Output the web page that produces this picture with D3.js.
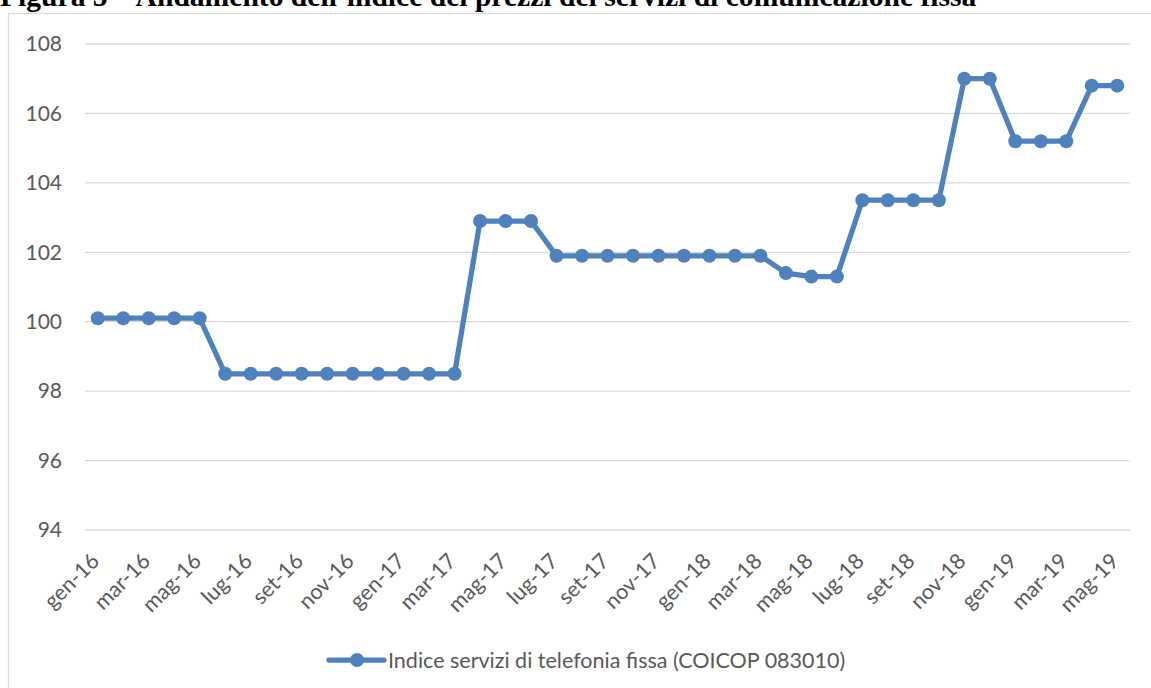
<!DOCTYPE html>
<html>
<head>
<meta charset="utf-8">
<script src="https://cdn.jsdelivr.net/npm/d3@7"></script>
<style>
  body { margin: 0; background: #fff; }
  svg { display: block; }
</style>
</head>
<body>
<div id="plot"></div>
<script>
let svgWidth = 1151;
let svgHeight = 688;

// Data
let monthNames = ['gen', 'feb', 'mar', 'apr', 'mag', 'giu', 'lug', 'ago', 'set', 'ott', 'nov', 'dic'];
let months = [];
for (let y = 16; y <= 19; y++) {
    monthNames.forEach(m => months.push(m + '-' + y));
}
months = months.slice(0, 41); // gen-16 .. mag-19

let values = [
    100.1, 100.1, 100.1, 100.1, 100.1,
    98.5, 98.5, 98.5, 98.5, 98.5, 98.5, 98.5, 98.5, 98.5, 98.5,
    102.9, 102.9, 102.9,
    101.9, 101.9, 101.9, 101.9, 101.9, 101.9, 101.9, 101.9, 101.9,
    101.4, 101.3, 101.3,
    103.5, 103.5, 103.5, 103.5,
    107.0, 107.0,
    105.2, 105.2, 105.2,
    106.8, 106.8
];

let yTicks = [94, 96, 98, 100, 102, 104, 106, 108];
let seriesName = 'Indice servizi di telefonia fissa (COICOP 083010)';
let title = 'Figura 5 \u2013 Andamento dell\u2019indice dei prezzi dei servizi di comunicazione fissa';

let blue = '#4f81bd';
let textGray = '#595959';
let labelFont = 'Lato, "Open Sans", sans-serif';

let margin = { top: 44, left: 85, right: 21, bottom: 158 };
let chartWidth = svgWidth - margin.left - margin.right;
let chartHeight = svgHeight - margin.top - margin.bottom;

let $svg = d3.select('#plot')
    .append('svg')
    .attr('width', svgWidth)
    .attr('height', svgHeight);

// Title (its top is cut off in the original page crop)
let titleText = $svg.append('text')
    .attr('x', 0)
    .attr('y', 6)
    .attr('font-family', '"Liberation Serif", "Times New Roman", serif')
    .attr('font-weight', 'bold')
    .attr('font-size', 22)
    .attr('fill', '#000')
    .text(title);

// scale the title so it spans the same width as in the picture
let titleLen = titleText.node().getComputedTextLength();
titleText.attr('font-size', 22 * 977 / titleLen);

// Chart frame
$svg.append('rect')
    .attr('x', 8.5)
    .attr('y', 13.5)
    .attr('width', svgWidth)
    .attr('height', svgHeight)
    .attr('fill', 'none')
    .attr('stroke', '#d9d9d9')
    .attr('stroke-width', 1.2);

let chartGroup = $svg.append('g')
    .attr('transform', `translate(${margin.left}, ${margin.top})`);

let xScale = d3.scalePoint()
    .domain(months)
    .range([0, chartWidth])
    .padding(0.5);

let yScale = d3.scaleLinear()
    .domain([94, 108])
    .range([chartHeight, 0]);

// Gridlines
chartGroup.append('g')
    .selectAll('line')
    .data(yTicks)
    .enter()
    .append('line')
    .attr('x1', 0)
    .attr('x2', chartWidth)
    .attr('y1', d => yScale(d))
    .attr('y2', d => yScale(d))
    .attr('stroke', '#d9d9d9')
    .attr('stroke-width', 1.3);

// Y axis labels
let leftAxis = d3.axisLeft(yScale)
    .tickValues(yTicks)
    .tickSize(0)
    .tickPadding(23);

chartGroup.append('g')
    .call(leftAxis)
    .call(g => g.select('.domain').remove())
    .selectAll('text')
    .attr('font-family', labelFont)
    .attr('font-size', 21)
    .attr('fill', textGray);

// X axis labels, every other month
let bottomAxis = d3.axisBottom(xScale)
    .tickValues(months.filter((m, i) => i % 2 === 0))
    .tickSize(0)
    .tickPadding(0);

chartGroup.append('g')
    .attr('transform', `translate(0, ${chartHeight})`)
    .call(bottomAxis)
    .call(g => g.select('.domain').remove())
    .selectAll('text')
    .attr('font-family', labelFont)
    .attr('font-size', 21.5)
    .attr('fill', textGray)
    .attr('text-anchor', 'end')
    .attr('dy', '0.35em')
    .attr('transform', 'translate(-3, 27) rotate(-45)');

// Series line
let line = d3.line()
    .x((d, i) => xScale(months[i]))
    .y(d => yScale(d));

chartGroup.append('path')
    .datum(values)
    .attr('d', line)
    .attr('fill', 'none')
    .attr('stroke', blue)
    .attr('stroke-width', 5.25)
    .attr('stroke-linejoin', 'round');

chartGroup.selectAll('circle')
    .data(values)
    .enter()
    .append('circle')
    .attr('cx', (d, i) => xScale(months[i]))
    .attr('cy', d => yScale(d))
    .attr('r', 7)
    .attr('fill', blue);

// Legend
let legend = $svg.append('g')
    .attr('transform', 'translate(329, 660)');

legend.append('line')
    .attr('x1', 0)
    .attr('x2', 55)
    .attr('y1', 0)
    .attr('y2', 0)
    .attr('stroke', blue)
    .attr('stroke-width', 5.25)
    .attr('stroke-linecap', 'round');

legend.append('circle')
    .attr('cx', 28)
    .attr('cy', 0)
    .attr('r', 7)
    .attr('fill', blue);

legend.append('text')
    .attr('x', 59)
    .attr('y', 0)
    .attr('dy', '0.35em')
    .attr('font-family', labelFont)
    .attr('font-size', 21.5)
    .attr('fill', textGray)
    .text(seriesName);
</script>
</body>
</html>
